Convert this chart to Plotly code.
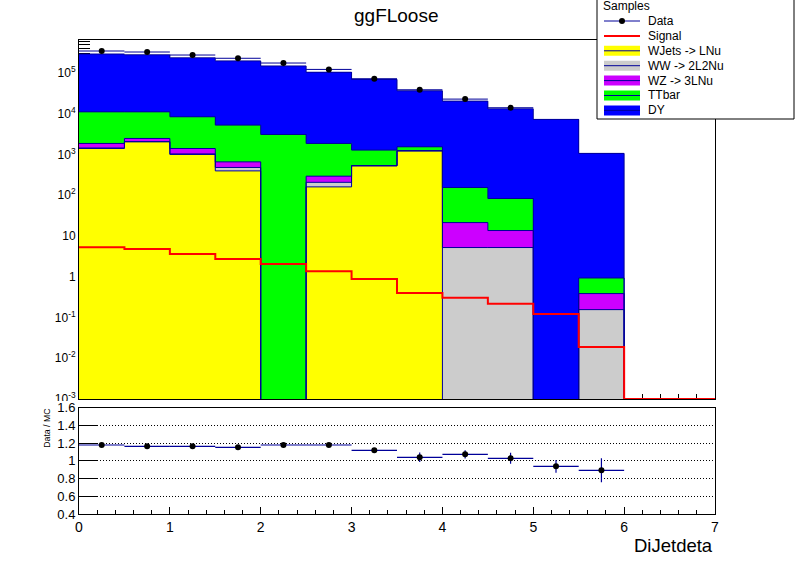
import plotly.graph_objects as go

# DiJetdeta binning: 14 bins of width 0.5 from 0 to 7 (only the first 12 are filled)
bin_edges = [0, 0.5, 1, 1.5, 2, 2.5, 3, 3.5, 4, 4.5, 5, 5.5, 6, 6.5, 7]
bin_centers = [0.25, 0.75, 1.25, 1.75, 2.25, 2.75, 3.25, 3.75, 4.25, 4.75, 5.25, 5.75]

# stacked backgrounds (events per bin), bottom to top
wjets = [1400, 2040, 1000, 395, 0, 160, 525, 1230, 0, 0, 0, 0]
ww = [40, 30, 30, 84, 0, 47, 4, 0, 5.2, 5.2, 0, 0.156]
wz = [420, 400, 370, 179, 0, 86, 6, 0, 16.1, 8.4, 0, 0.23]
ttbar = [9240, 8630, 7000, 4592, 3090, 1567, 745, 310, 133, 69.4, 0, 0.545]
dy = [2.80e5, 2.68e5, 2.27e5, 1.92e5, 1.45e5, 1.02e5, 6.84e4, 3.50e4, 2.02e4, 1.31e4, 7240, 1060]

# signal for all 14 bins
signal = [5.27, 4.8, 3.61, 2.72, 2.05, 1.37, 0.88, 0.398, 0.306, 0.218, 0.121, 0.019, 0, 0]

# data shown in the upper pad (first 10 bins)
data_main = [3.45e5, 3.26e5, 2.75e5, 2.29e5, 1.75e5, 1.22e5, 7.2e4, 3.86e4, 2.28e4, 1.40e4]

# data / MC ratio and its errors
ratio = [1.179, 1.164, 1.164, 1.153, 1.179, 1.179, 1.119, 1.04, 1.074, 1.029, 0.938, 0.893]
ratio_err = [0.01, 0.01, 0.01, 0.012, 0.012, 0.015, 0.02, 0.053, 0.047, 0.062, 0.073, 0.135]

legend_labels = ["Data", "Signal", "WJets -> LNu", "WW -> 2L2Nu", "WZ -> 3LNu", "TTbar", "DY"]

NAVY = "#000099"
FONT = "Liberation Sans"
stack = [
    ("WJets -> LNu", wjets, "#FFFF00"),
    ("WW -> 2L2Nu", ww, "#CCCCCC"),
    ("WZ -> 3LNu", wz, "#CC00FF"),
    ("TTbar", ttbar, "#00FF00"),
    ("DY", dy, "#0000FF"),
]

fig = go.Figure()

# filled stack (no outlines, ROOT-like contours are added below)
for name, vals, col in stack:
    fig.add_trace(go.Bar(
        x=bin_centers, y=[v if v > 0 else None for v in vals], width=0.5,
        name=name, marker=dict(color=col, line=dict(width=0)),
        xaxis="x", yaxis="y", showlegend=False,
    ))

# histogram contours of each stacked level; empty bins drop below the frame
below = 1e-5
cum = [0.0] * len(bin_centers)
n = len(bin_centers)
for name, vals, col in stack:
    cum = [c + v for c, v in zip(cum, vals)]
    lvl = [c if c > 0 else below for c in cum]
    fig.add_trace(go.Scatter(
        x=bin_edges[:n + 1] + [bin_edges[n]], y=lvl + [lvl[-1], below],
        mode="lines", line=dict(color=NAVY, width=1, shape="hv"),
        xaxis="x", yaxis="y", showlegend=False, hoverinfo="skip",
    ))

# signal as a step line; empty bins sit on the frame bottom like ROOT does
ymin = 1e-3
sig_y = [v if v > 0 else ymin for v in signal]
fig.add_trace(go.Scatter(
    x=bin_edges, y=sig_y + [sig_y[-1]], mode="lines", line=dict(color="#FF0000", width=2, shape="hv"),
    xaxis="x", yaxis="y", showlegend=False,
))

fig.add_trace(go.Scatter(
    x=bin_centers[:len(data_main)], y=data_main, mode="markers",
    marker=dict(color="black", size=6),
    error_x=dict(type="constant", value=0.25, color=NAVY, thickness=1, width=0),
    xaxis="x", yaxis="y", showlegend=False,
))

fig.add_trace(go.Scatter(
    x=bin_centers, y=ratio, mode="markers",
    marker=dict(color="black", size=6),
    error_x=dict(type="constant", value=0.25, color=NAVY, thickness=1.2, width=0),
    error_y=dict(type="data", array=ratio_err, color=NAVY, thickness=1.2, width=0),
    xaxis="x2", yaxis="y2", showlegend=False,
))

# frame of the two pads in screen pixels
L, R, T, B = 79, 715, 40, 514
def fx(px):
    return (px - L) / (R - L)
def fy(py):
    return (B - py) / (B - T)

decades = [1e-3, 1e-2, 1e-1, 1, 10, 100, 1e3, 1e4, 1e5]
dec_text = ["10<sup>-3</sup>", "10<sup>-2</sup>", "10<sup>-1</sup>", "1", "10",
            "10<sup>2</sup>", "10<sup>3</sup>", "10<sup>4</sup>", "10<sup>5</sup>"]
minor_vals = [m * 10.0 ** k for k in range(-3, 6) for m in range(2, 10)]

fig.update_layout(
    width=796, height=572,
    margin=dict(l=L, r=796 - R, t=T, b=572 - B, autoexpand=False),
    paper_bgcolor="white", plot_bgcolor="white",
    barmode="stack", bargap=0,
    font=dict(family=FONT, color="black"),
    xaxis=dict(domain=[0, 1], anchor="y", range=[0, 7], showticklabels=False,
               ticks="inside", tick0=0, dtick=1, ticklen=9, tickcolor="black",
               minor=dict(ticks="inside", tick0=0, dtick=0.2, ticklen=5, tickcolor="black"),
               showline=True, mirror=True, linecolor="black", linewidth=1,
               showgrid=False, zeroline=False, layer="below traces"),
    yaxis=dict(domain=[fy(399), 1], anchor="x", type="log", range=[-3, 5.808],
               tickmode="array", tickvals=decades, ticktext=dec_text,
               ticks="inside", ticklen=18, tickcolor="black", tickfont=dict(size=12),
               minor=dict(ticks="inside", tickmode="array", tickvals=minor_vals,
                          ticklen=11, tickcolor="black"),
               showline=True, mirror=True, linecolor="black", linewidth=1,
               showgrid=False, zeroline=False, layer="below traces"),
    xaxis2=dict(domain=[0, 1], anchor="y2", range=[0, 7],
                ticks="inside", tick0=0, dtick=1, ticklen=7, tickcolor="black",
                tickfont=dict(size=14),
                minor=dict(ticks="inside", tick0=0, dtick=0.2, ticklen=4, tickcolor="black"),
                showline=True, mirror=True, linecolor="black", linewidth=1,
                showgrid=False, zeroline=False),
    yaxis2=dict(domain=[0, fy(407.7)], anchor="x2", range=[0.4, 1.6],
                tick0=0.4, dtick=0.2, ticks="inside", ticklen=18, tickcolor="black",
                tickfont=dict(size=13),
                showgrid=True, gridcolor="black", gridwidth=1, griddash="1px,2px",
                showline=True, mirror=True, linecolor="black", linewidth=1,
                zeroline=False),
)

shapes = [
    # ratio pad hides the bottom of the 10^-3 label
    dict(type="rect", xref="paper", yref="paper", x0=fx(0), x1=fx(78), y0=fy(403), y1=fy(401),
         fillcolor="white", line=dict(width=0), layer="above"),
]
annotations = [
    dict(text="ggFLoose", x=fx(396), y=fy(15), xref="paper", yref="paper",
         xanchor="center", yanchor="middle", showarrow=False, font=dict(size=19)),
    dict(text="DiJetdeta", x=1, y=fy(545), xref="paper", yref="paper",
         xanchor="right", yanchor="middle", showarrow=False, font=dict(size=18.5)),
    dict(text="Data / MC", x=fx(46.7), y=fy(428), xref="paper", yref="paper",
         xanchor="center", yanchor="middle", textangle=-90, showarrow=False,
         font=dict(size=8.7)),
]

# legend box drawn by hand, ROOT TLegend style
shapes.append(dict(type="rect", xref="paper", yref="paper", x0=fx(597), x1=fx(794),
                   y0=fy(119), y1=fy(-1), fillcolor="white", line=dict(color="black", width=1),
                   layer="above"))
annotations.append(dict(text="Samples", x=fx(601), y=fy(6), xref="paper", yref="paper",
                        xanchor="left", yanchor="middle", showarrow=False, font=dict(size=12)))
sym_x0, sym_x1, txt_x = 604, 640, 646
for i, label in enumerate(legend_labels):
    ry = 21 + 14.9 * i
    if label == "Data":
        shapes.append(dict(type="line", xref="paper", yref="paper", x0=fx(sym_x0), x1=fx(sym_x1),
                           y0=fy(ry), y1=fy(ry), line=dict(color=NAVY, width=1)))
        shapes.append(dict(type="circle", xref="paper", yref="paper", x0=fx(619), x1=fx(625),
                           y0=fy(ry + 3), y1=fy(ry - 3), fillcolor="black", line=dict(width=0)))
    elif label == "Signal":
        shapes.append(dict(type="line", xref="paper", yref="paper", x0=fx(sym_x0), x1=fx(sym_x1),
                           y0=fy(ry), y1=fy(ry), line=dict(color="#FF0000", width=2)))
    else:
        col = [c for nm, v, c in stack if nm == label][0]
        shapes.append(dict(type="rect", xref="paper", yref="paper", x0=fx(sym_x0), x1=fx(sym_x1),
                           y0=fy(ry + 5), y1=fy(ry - 5), fillcolor=col, line=dict(width=0)))
        shapes.append(dict(type="line", xref="paper", yref="paper", x0=fx(sym_x0), x1=fx(sym_x1),
                           y0=fy(ry), y1=fy(ry), line=dict(color=NAVY, width=1)))
    annotations.append(dict(text=label, x=fx(txt_x), y=fy(ry), xref="paper", yref="paper",
                            xanchor="left", yanchor="middle", showarrow=False, font=dict(size=12)))

fig.update_layout(shapes=shapes, annotations=annotations)

# drop the browser's default body margin so the canvas starts at the page corner
fig.write_html("out.html", config={"displayModeBar": False},
               post_script="document.body.style.margin='0';")
